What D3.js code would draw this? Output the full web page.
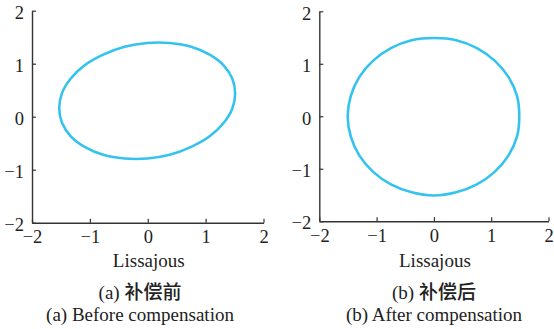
<!DOCTYPE html>
<html>
<head>
<meta charset="utf-8">
<script src="https://cdn.jsdelivr.net/npm/d3@7"></script>
<style>
  html, body { margin: 0; padding: 0; background: #fff; }
  svg { display: block; }
  text { font-family: "Liberation Serif", "Times New Roman", "Noto Sans CJK SC", serif; fill: #222; }
</style>
</head>
<body>
<svg id="chart" width="554" height="329"></svg>
<script>
// Tick values shared by both panels
const tickValues = [-2, -1, 0, 1, 2];

// (a) Lissajous trace before compensation
const beforeX = [1.51, 1.46, 1.31, 1.07, 0.75, 0.38, -0.01, -0.40, -0.77, -1.09, -1.33, -1.48,
                 -1.53, -1.48, -1.33, -1.09, -0.77, -0.40, -0.01, 0.38, 0.75, 1.07, 1.31, 1.46];
const beforeY = [0.44, 0.72, 0.97, 1.17, 1.32, 1.39, 1.39, 1.32, 1.17, 0.97, 0.72, 0.45,
                 0.16, -0.12, -0.37, -0.57, -0.72, -0.79, -0.79, -0.72, -0.57, -0.37, -0.12, 0.15];

// (b) Lissajous trace after compensation
const afterX = [1.49, 1.45, 1.30, 1.06, 0.75, 0.39, 0.00, -0.39, -0.75, -1.06, -1.30, -1.45,
                -1.505, -1.45, -1.30, -1.06, -0.75, -0.39, 0.00, 0.39, 0.75, 1.06, 1.30, 1.45];
const afterY = [0.00, 0.39, 0.75, 1.06, 1.30, 1.45, 1.49, 1.45, 1.30, 1.06, 0.75, 0.39,
                0.00, -0.39, -0.75, -1.06, -1.30, -1.45, -1.51, -1.45, -1.30, -1.06, -0.75, -0.39];

const xTitle = "Lissajous";
const captionTags = ["(a) ", "(b) "];
const captionsCN = ["补偿前", "补偿后"];
const captionsEN = ["(a) Before compensation", "(b) After compensation"];

const svg = d3.select("#chart");
const lineColor = "#33c3ee";
const axisColor = "#333";
const fmt = d3.format("d");

const panels = [
  { xs: beforeX, ys: beforeY, xr: [32, 263.5], yr: [222.7, 10.7], cap: 140, tag: captionTags[0], cn: captionsCN[0], en: captionsEN[0] },
  { xs: afterX,  ys: afterY,  xr: [319.3, 548.5], yr: [221.2, 11.3], cap: 434, tag: captionTags[1], cn: captionsCN[1], en: captionsEN[1] }
];

panels.forEach(p => {
  const x = d3.scaleLinear().domain([-2, 2]).range(p.xr);
  const y = d3.scaleLinear().domain([-2, 2]).range(p.yr);
  const g = svg.append("g");

  // x axis with inward ticks
  const gx = g.append("g")
    .attr("transform", `translate(0,${p.yr[0]})`)
    .call(d3.axisBottom(x).tickValues(tickValues).tickFormat(fmt)
      .tickSizeInner(-4).tickSizeOuter(0).tickPadding(4));
  // y axis with inward ticks
  const gy = g.append("g")
    .attr("transform", `translate(${p.xr[0]},0)`)
    .call(d3.axisLeft(y).tickValues(tickValues).tickFormat(fmt)
      .tickSizeInner(-4).tickSizeOuter(0).tickPadding(8));

  [gx, gy].forEach(a => {
    a.attr("font-family", null);
    a.select(".domain").attr("stroke", axisColor).attr("stroke-width", 1.4);
    a.selectAll(".tick line").attr("stroke", axisColor).attr("stroke-width", 1.2);
    a.selectAll(".tick text").attr("font-size", 18.5).attr("fill", "#222")
      .style("font-family", '"Liberation Serif", "Times New Roman", serif');
  });
  gx.selectAll(".tick text").attr("dy", "0.9em");
  gy.selectAll(".tick text").attr("dy", "0.42em");

  // closed Lissajous curve
  const pts = p.xs.map((v, i) => [v, p.ys[i]]);
  g.append("path")
    .datum(pts)
    .attr("fill", "none")
    .attr("stroke", lineColor)
    .attr("stroke-width", 2.6)
    .attr("d", d3.line().x(d => x(d[0])).y(d => y(d[1])).curve(d3.curveCatmullRomClosed)(pts));

  g.append("text").attr("x", x(0) + 1).attr("y", 267).attr("text-anchor", "middle")
    .attr("font-size", 19).text(xTitle);
  const cn = g.append("text").attr("x", p.cap).attr("y", 299).attr("text-anchor", "middle")
    .attr("font-size", 19);
  cn.append("tspan").text(p.tag);
  cn.append("tspan").attr("font-weight", 500).text(p.cn);
  g.append("text").attr("x", p.cap).attr("y", 321).attr("text-anchor", "middle")
    .attr("font-size", 19).text(p.en);
});
</script>
</body>
</html>
